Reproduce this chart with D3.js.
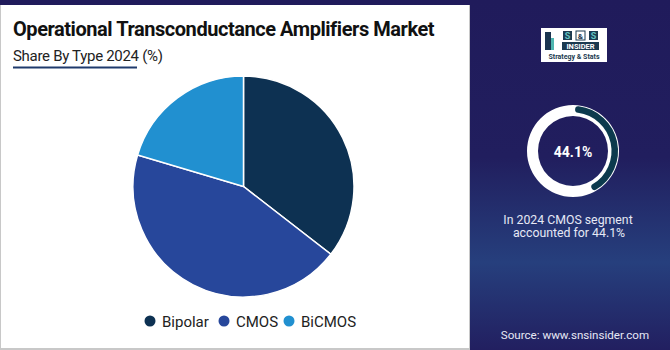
<html>
<head>
<script src="https://d3js.org/d3.v7.min.js"></script>
<style>
  body { margin: 0; background: #211d5c; }
  text { font-family: Roboto, "Noto Sans", sans-serif; }
</style>
</head>
<body>
<svg width="670" height="350"></svg>
<script>
// values
const types = ["Bipolar", "CMOS", "BiCMOS"];
const shares = [35.5, 44.1, 20.4];
const colors = ["#0d3152", "#27479b", "#2190d0"];
const highlight = 44.1;

const svg = d3.select("svg");

// right panel gradient
const defs = svg.append("defs");
const grad = defs.append("linearGradient").attr("id", "bg").attr("x1", 0).attr("y1", 0).attr("x2", 0).attr("y2", 1);
grad.append("stop").attr("offset", "0%").attr("stop-color", "#201b5b");
grad.append("stop").attr("offset", "45%").attr("stop-color", "#211e5e");
grad.append("stop").attr("offset", "75%").attr("stop-color", "#263f7d");
grad.append("stop").attr("offset", "100%").attr("stop-color", "#221f60");

svg.append("rect").attr("width", 670).attr("height", 350).attr("fill", "url(#bg)");

// left white panel
svg.append("rect").attr("x", 0).attr("y", 5).attr("width", 470).attr("height", 345).attr("fill", "#c8c8c8");
svg.append("rect").attr("x", 1).attr("y", 5).attr("width", 468).attr("height", 343).attr("fill", "#ffffff");

svg.append("text")
  .attr("x", 13).attr("y", 36)
  .style("font-size", "20px").style("font-weight", 700)
  .style("letter-spacing", "-0.45px")
  .attr("fill", "#111")
  .text("Operational Transconductance Amplifiers Market");

svg.append("text")
  .attr("x", 13).attr("y", 61)
  .style("font-size", "15px")
  .style("letter-spacing", "-0.3px")
  .attr("fill", "#222")
  .text("Share By Type 2024 (%)");

svg.append("line")
  .attr("x1", 13).attr("x2", 137).attr("y1", 67.5).attr("y2", 67.5)
  .attr("stroke", "#1f3a6c").attr("stroke-width", 2);

// pie
const cx = 243.5, cy = 186.5, r = 110.5;
const pie = d3.pie().sort(null).value(d => d);
const arc = d3.arc().innerRadius(0).outerRadius(r);
const color = d3.scaleOrdinal().domain(types).range(colors);

const g = svg.append("g").attr("transform", "translate(" + cx + "," + cy + ")");
g.selectAll("path")
  .data(pie(shares))
  .enter()
  .append("path")
    .attr("d", arc)
    .attr("fill", (d, i) => color(types[i]))
    .attr("stroke", "#fff")
    .attr("stroke-width", 1.5);

// legend
const legX = [150, 224, 289];
const leg = svg.selectAll("g.leg")
  .data(types)
  .enter()
  .append("g")
    .attr("class", "leg")
    .attr("transform", (d, i) => "translate(" + legX[i] + ",321)");
leg.append("circle").attr("r", 5.5).attr("fill", d => color(d));
leg.append("text")
  .attr("x", 12).attr("y", 5.5)
  .style("font-size", "15px")
  .attr("fill", "#222")
  .text(d => d);

// logo
const logo = svg.append("g").attr("transform", "translate(541,28)");
logo.append("rect").attr("width", 66).attr("height", 34).attr("fill", "#fff");
logo.append("rect").attr("x", 4).attr("y", 4).attr("width", 6).attr("height", 18).attr("fill", "#1b3550");
logo.append("rect").attr("x", 10).attr("y", 10).attr("width", 3).attr("height", 12).attr("fill", "#4fb6b0");
logo.append("rect").attr("x", 22).attr("y", 3).attr("width", 9).attr("height", 9).attr("fill", "#1b3a50");
logo.append("rect").attr("x", 35).attr("y", 3).attr("width", 9).attr("height", 9).attr("fill", "#fff").attr("stroke", "#1b3a50");
logo.append("rect").attr("x", 48).attr("y", 3).attr("width", 9).attr("height", 9).attr("fill", "#1b3a50");
logo.append("text").attr("x", 26.5).attr("y", 11).attr("text-anchor", "middle").style("font-size", "9px").style("font-weight", 700).attr("fill", "#62c3c0").text("S");
logo.append("text").attr("x", 39.5).attr("y", 11).attr("text-anchor", "middle").style("font-size", "8px").style("font-weight", 700).attr("fill", "#1b3a50").text("&");
logo.append("text").attr("x", 52.5).attr("y", 11).attr("text-anchor", "middle").style("font-size", "9px").style("font-weight", 700).attr("fill", "#62c3c0").text("S");
logo.append("rect").attr("x", 21).attr("y", 14).attr("width", 37).attr("height", 8).attr("fill", "#1b3a50");
logo.append("text").attr("x", 39.5).attr("y", 21).attr("text-anchor", "middle").style("font-size", "7.5px").style("font-weight", 700).attr("fill", "#fff").text("INSIDER");
logo.append("text").attr("x", 33).attr("y", 31).attr("text-anchor", "middle").style("font-size", "7px").style("font-weight", 700).attr("fill", "#1b3a50").text("Strategy & Stats");

// donut
const dcx = 573, dcy = 151;
const dg = svg.append("g").attr("transform", "translate(" + dcx + "," + dcy + ")");
dg.append("path")
  .attr("d", d3.arc().innerRadius(35).outerRadius(46).startAngle(0).endAngle(2 * Math.PI)())
  .attr("fill", "#fff");
const angle = d3.scaleLinear().domain([0, 100]).range([0, 2 * Math.PI]);
dg.append("path")
  .attr("d", d3.arc().innerRadius(38.5).outerRadius(45).startAngle(angle(0.8)).endAngle(angle(highlight - 1.5)).cornerRadius(3.2)())
  .attr("fill", "#0c3a4d");
dg.append("text")
  .attr("y", 5.5).attr("text-anchor", "middle")
  .style("font-size", "14px").style("font-weight", 700)
  .attr("fill", "#fff")
  .text(highlight + "%");

svg.append("text")
  .attr("x", 568).attr("y", 224).attr("text-anchor", "middle")
  .style("font-size", "12.3px").attr("fill", "#e6e8f5")
  .text("In 2024 CMOS segment");
svg.append("text")
  .attr("x", 569).attr("y", 237).attr("text-anchor", "middle")
  .style("font-size", "12.3px").attr("fill", "#e6e8f5")
  .text("accounted for " + highlight + "%");

svg.append("text")
  .attr("x", 575).attr("y", 339).attr("text-anchor", "middle")
  .style("font-size", "11.6px").attr("fill", "#e6e8f5")
  .text("Source: www.snsinsider.com");
</script>
</body>
</html>
